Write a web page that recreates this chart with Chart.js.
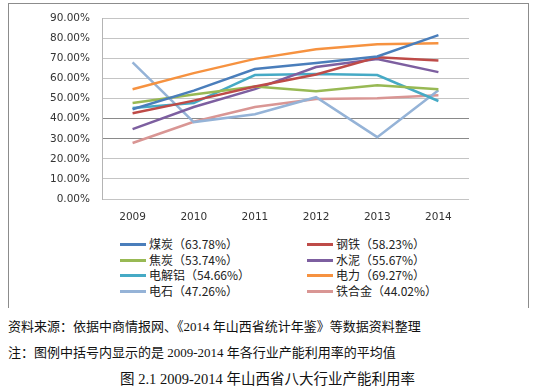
<!DOCTYPE html>
<html>
<head>
<meta charset="utf-8">
<script src="https://cdn.jsdelivr.net/npm/chart.js@4/dist/chart.umd.min.js"></script>
<style>
  body { margin: 0; background: #fff; width: 535px; height: 392px; position: relative; overflow: hidden; }
  #box { position: absolute; left: 8px; top: 3px; width: 519px; height: 304px; border: 1px solid #8c8c8c; border-bottom: none; }
  #wrap { position: absolute; left: 0; top: 0; width: 535px; height: 232px; }
  #legend { position: absolute; left: 120px; top: 236px; width: 320px; font: 12px "Noto Sans CJK SC", "DejaVu Sans", sans-serif; color: #222; }
  .item { position: absolute; height: 16px; line-height: 16px; white-space: nowrap; }
  .item span.sw { display: inline-block; width: 26px; height: 3px; vertical-align: middle; margin-right: 3px; position: relative; top: -1px; }
  .note { position: absolute; left: 8px; font: 13px "Liberation Serif", "Noto Sans CJK SC", serif; color: #111; white-space: nowrap; }
  #caption { position: absolute; left: 0; width: 535px; text-align: center; top: 367px; font: 14.5px "Liberation Serif", "Noto Sans CJK SC", serif; color: #111; }
</style>
</head>
<body>
<div id="box"></div>
<div id="wrap"><canvas id="grafico"></canvas></div>
<div id="legend"></div>
<div class="note" style="top:316px">资料来源：依据中商情报网、《2014 年山西省统计年鉴》等数据资料整理</div>
<div class="note" style="top:342px">注：图例中括号内显示的是 2009-2014 年各行业产能利用率的平均值</div>
<div id="caption">图 2.1 2009-2014 年山西省八大行业产能利用率</div>
<script>
// años y valores (%)
var anios = ['2009', '2010', '2011', '2012', '2013', '2014'];
var nombres = ['煤炭（63.78%）', '钢铁（58.23%）', '焦炭（53.74%）', '水泥（55.67%）',
               '电解铝（54.66%）', '电力（69.27%）', '电石（47.26%）', '铁合金（44.02%）'];
var meitan    = [44.7, 54.0, 64.7, 67.7, 71.0, 81.6];
var gangtie   = [42.7, 49.0, 56.0, 62.0, 70.6, 69.0];
var jiaotan   = [47.8, 52.0, 56.0, 53.7, 56.7, 54.7];
var shuini    = [34.8, 45.8, 54.7, 65.7, 69.7, 63.2];
var dianjielv = [45.3, 47.8, 61.7, 62.2, 61.7, 48.8];
var dianli    = [54.7, 62.7, 69.8, 74.6, 77.1, 77.6];
var dianshi   = [68.0, 38.3, 42.2, 50.7, 30.8, 54.2];
var tiehejin  = [27.9, 38.5, 45.8, 49.8, 50.2, 51.7];
var colores = ['#4A7EBB', '#BE4B48', '#98B954', '#7D5FA0', '#46AAC5', '#F69240', '#95B3D7', '#D99694'];

var series = [meitan, gangtie, jiaotan, shuini, dianjielv, dianli, dianshi, tiehejin];
var datasets = series.map(function(s, i) {
    return {
        label: nombres[i],
        data: s,
        borderColor: colores[i],
        backgroundColor: colores[i],
        borderWidth: 2.5,
        pointRadius: 0,
        tension: 0,
        fill: false
    };
});

var ctx = document.getElementById('grafico').getContext('2d');
var chart = new Chart(ctx, {
    type: 'line',
    data: { labels: anios, datasets: datasets },
    options: {
        responsive: true,
        maintainAspectRatio: false,
        animation: false,
        layout: { padding: { left: 8, right: 66, top: 18, bottom: 0 } },
        plugins: { legend: { display: false }, tooltip: { enabled: false } },
        scales: {
            x: {
                offset: true,
                grid: { display: false, drawTicks: false },
                border: { display: false },
                ticks: { padding: 12, color: '#333', font: { family: 'DejaVu Sans', size: 10.5 } },
                afterFit: function(scale) { scale.height = 33; }
            },
            y: {
                min: 0,
                max: 90,
                grid: {
                    drawTicks: false,
                    color: function(c) { return (c.tick && (c.tick.value === 30 || c.tick.value === 40)) ? '#8a8a8a' : '#c4c4c4'; }
                },
                border: { display: true, color: '#b4b4b4' },
                ticks: {
                    stepSize: 10,
                    padding: 12,
                    color: '#333',
                    font: { family: 'DejaVu Sans', size: 10.5 },
                    callback: function(v) { return v.toFixed(2) + '%'; }
                },
                afterFit: function(scale) { scale.width = 94; }
            }
        }
    }
});

// leyenda en dos columnas
var leyenda = document.getElementById('legend');
chart.data.datasets.forEach(function(d, i) {
    var div = document.createElement('div');
    div.className = 'item';
    div.style.left = (i % 2 === 0 ? 0 : 187) + 'px';
    div.style.top = (Math.floor(i / 2) * 15.5) + 'px';
    div.innerHTML = '<span class="sw" style="background:' + d.borderColor + '"></span>' + d.label;
    leyenda.appendChild(div);
});
</script>
</body>
</html>
